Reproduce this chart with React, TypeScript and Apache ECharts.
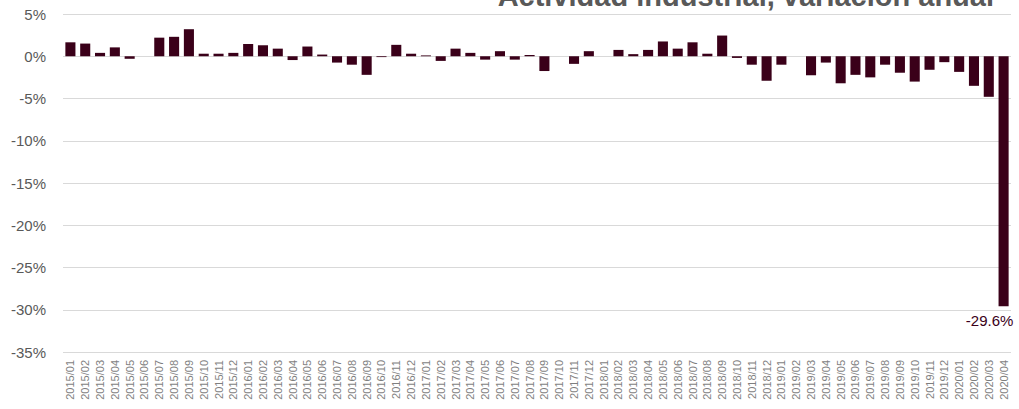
import React, { useEffect, useRef } from "react";
import * as echarts from "echarts";

const years = ["2015", "2016", "2017", "2018", "2019", "2020"];
const months = ["01", "02", "03", "04", "05", "06", "07", "08", "09", "10", "11", "12"];
const categories: string[] = [];
years.forEach((y) => {
  months.forEach((m) => {
    if (y === "2020" && Number(m) > 4) return;
    categories.push(`${y}/${m}`);
  });
});

const values2015 = [1.65, 1.5, 0.4, 1.05, -0.3, 0.0, 2.2, 2.3, 3.2, 0.3, 0.3, 0.4];
const values2016 = [1.45, 1.3, 0.9, -0.45, 1.15, 0.2, -0.75, -1.0, -2.2, -0.1, 1.35, 0.3];
const values2017 = [0.1, -0.55, 0.9, 0.4, -0.4, 0.6, -0.4, 0.15, -1.75, 0.0, -0.9, 0.6];
const values2018 = [0.0, 0.75, 0.25, 0.75, 1.75, 0.9, 1.65, 0.3, 2.45, -0.2, -1.0, -2.9];
const values2019 = [-1.0, 0.0, -2.25, -0.75, -3.2, -2.2, -2.5, -1.0, -1.95, -3.0, -1.6, -0.7];
const values2020 = [-1.85, -3.5, -4.8, -29.6];
const values = [...values2015, ...values2016, ...values2017, ...values2018, ...values2019, ...values2020];

const yTicks = { min: -35, max: 5, interval: 5 };
const titleText = "Actividad industrial, variación anual";
const barColor = "#3a0019";
const labelIndex = values.length - 1;

export default function App() {
  const ref = useRef<HTMLDivElement>(null);
  useEffect(() => {
    if (!ref.current) return;
    const chart = echarts.init(ref.current, null, { renderer: "svg" });
    const font = "'Liberation Sans', Arial, sans-serif";
    chart.setOption({
      animation: false,
      backgroundColor: "#ffffff",
      title: {
        text: titleText,
        right: 20,
        top: -24,
        textStyle: { fontFamily: font, fontSize: 29, fontWeight: "bold", color: "#595959" },
      },
      grid: { left: 63, right: 8, top: 14, bottom: 57, containLabel: false },
      xAxis: {
        type: "category",
        data: categories,
        axisLine: { show: false },
        axisTick: { show: false },
        axisLabel: {
          rotate: 90,
          interval: 0,
          fontFamily: font,
          fontSize: 11,
          color: "#7f7f7f",
          margin: 8,
        },
      },
      yAxis: {
        type: "value",
        min: yTicks.min,
        max: yTicks.max,
        interval: yTicks.interval,
        axisLine: { show: false },
        axisTick: { show: false },
        splitLine: { lineStyle: { color: "#d9d9d9", width: 1 } },
        axisLabel: {
          formatter: (v: number) => `${v}%`,
          fontFamily: font,
          fontSize: 15,
          color: "#595959",
          margin: 17,
        },
      },
      series: [
        {
          type: "bar",
          data: values.map((v, i) =>
            i === labelIndex
              ? {
                  value: v,
                  label: {
                    show: true,
                    position: "bottom",
                    distance: 7,
                    offset: [-14, 0],
                    formatter: (p: any) => `${p.value.toFixed(1)}%`,
                    fontFamily: font,
                    fontSize: 15,
                    color: "#3a0019",
                  },
                }
              : v
          ),
          barCategoryGap: "32%",
          itemStyle: { color: barColor },
        },
      ],
    });
    return () => chart.dispose();
  }, []);
  return (
    <div
      ref={ref}
      style={{ position: "fixed", left: 0, top: 0, width: 1019, height: 409, background: "#fff" }}
    />
  );
}
